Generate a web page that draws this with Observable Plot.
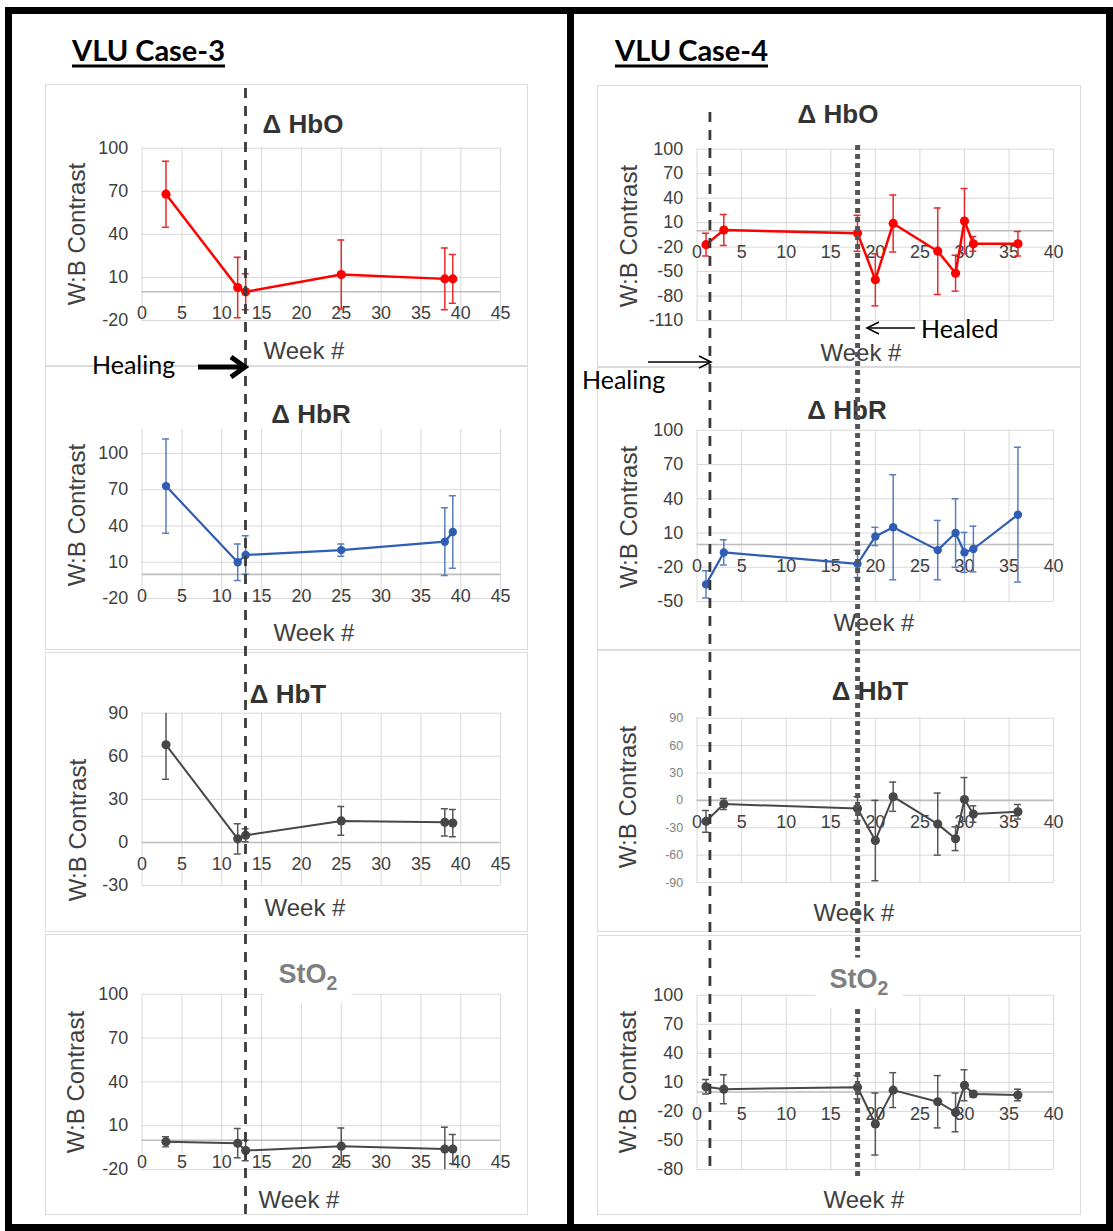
<!DOCTYPE html>
<html><head><meta charset="utf-8">
<script src="https://cdn.jsdelivr.net/npm/d3@7"></script>
<script src="https://cdn.jsdelivr.net/npm/@observablehq/plot@0.6"></script>
<style>
body{margin:0;background:#fff;}
#fig{position:relative;width:1113px;height:1231px;overflow:hidden;background:#fff;font-family:"Liberation Sans",Arial,sans-serif;}
.abs{position:absolute;white-space:nowrap;line-height:1;}
.pbox{position:absolute;border:1px solid #dcdcdc;box-sizing:border-box;background:#fff;}
</style></head><body><div id="fig"></div>
<script>
// ---------------- DATA ----------------
const case3Weeks = [3, 12, 13, 25, 38, 39];
const case3HbO = [68, 3, 0, 12, 9, 9];
const case3HbOErr = [23, 21, 12.5, 24, 21.5, 17];
const case3HbR = [73, 10, 16, 20, 27, 35];
const case3HbRErr = [39, 15, 16, 5, 28, 30];
const case3HbT = [68, 2.5, 5, 15, 14, 13.5];
const case3HbTErr = [24, 10.5, 4.5, 10, 9.5, 9.5];
const case3StO2 = [-1, -2, -7, -4, -6, -6];
const case3StO2Err = [3.5, 10, 7, 12.5, 15, 10];

const case4Weeks = [1, 3, 18, 20, 22, 27, 29, 30, 31, 36];
const case4HbO = [-17, 1, -3, -60, 9, -25, -52, 12, -16, -16];
const case4HbOErr = [14, 19, 22, 32, 35, 53, 22, 40, 9, 15];
const case4HbR = [-35, -7, -17, 7, 15, -5, 10, -7, -4, 26];
const case4HbRErr = [12, 11, 12, 8, 46, 26, 30, 17.5, 20, 59];
const case4HbT = [-23, -4, -9, -44, 4, -26, -42, 1, -15, -12.5];
const case4HbTErr = [12, 6, 13, 44, 16, 34, 13, 24, 9, 8];
const case4StO2 = [5.5, 3, 5, -33, 2, -10, -21, 7, -2, -3];
const case4StO2Err = [7.5, 15, 12, 32, 18, 27, 20, 16, 3, 6];

const case3HealingWeek = [13];
const case4HealingWeek = [1.5];
const case4HealedWeek = [18];

const case3XTicks = [0, 5, 10, 15, 20, 25, 30, 35, 40, 45];
const case4XTicks = [0, 5, 10, 15, 20, 25, 30, 35, 40];
const yTicksC3HbO = [-20, 10, 40, 70, 100];
const yTicksC3HbR = [-20, 10, 40, 70, 100];
const yTicksC3HbT = [-30, 0, 30, 60, 90];
const yTicksC3StO2 = [-20, 10, 40, 70, 100];
const yTicksC4HbO = [-110, -80, -50, -20, 10, 40, 70, 100];
const yTicksC4HbR = [-50, -20, 10, 40, 70, 100];
const yTicksC4HbT = [-90, -60, -30, 0, 30, 60, 90];
const yTicksC4StO2 = [-80, -50, -20, 10, 40, 70, 100];

// ---------------- LAYOUT ----------------
const fig = document.getElementById('fig');
const RED = "#ff0000", BLUE = "#2f5db3", GRAY = "#474747";
const TICK = "#404040";

function addText(html, x, y, o = {}) {
  const d = document.createElement('div');
  d.className = 'abs';
  d.innerHTML = html;
  d.style.left = x + 'px';
  d.style.top = y + 'px';
  d.style.fontSize = (o.size || 24) + 'px';
  d.style.fontWeight = o.weight || 'normal';
  d.style.color = o.color || '#404040';
  if (o.family) d.style.fontFamily = o.family;
  if (o.bg) { d.style.background = o.bg; d.style.padding = o.pad; }
  if (o.underline) { d.style.textDecoration = 'underline'; d.style.textDecorationThickness = '3px'; d.style.textUnderlineOffset = '4px'; }
  const tx = o.anchor === 'start' ? '0' : '-50%';
  d.style.transform = `translate(${tx},-50%)` + (o.rotate ? ' rotate(-90deg)' : '');
  fig.appendChild(d);
  return d;
}

function panel(cfg) {
  const box = document.createElement('div');
  box.className = 'pbox';
  Object.assign(box.style, {left: cfg.x + 'px', top: cfg.y + 'px', width: cfg.w + 'px', height: cfg.h + 'px'});
  fig.appendChild(box);
  const data = cfg.weeks.map((w, i) => ({week: w, v: cfg.values[i], e: cfg.errs[i]}));
  const p = Plot.plot({
    width: cfg.w, height: cfg.h,
    marginTop: cfg.mt, marginBottom: cfg.mb, marginLeft: cfg.ml, marginRight: cfg.mr,
    x: {domain: cfg.xDomain, axis: null},
    y: {domain: cfg.yDomain, axis: null},
    style: {background: "transparent", overflow: "visible", fontFamily: "Liberation Sans, Arial, sans-serif"},
    marks: [
      Plot.ruleX(cfg.xTicks, {stroke: "#d9d9d9", strokeWidth: 1}),
      Plot.ruleY(cfg.yTicks, {stroke: "#d9d9d9", strokeWidth: 1}),
      Plot.ruleY([0], {stroke: "#bdbdbd", strokeWidth: 1.6}),
      Plot.text(cfg.yTicks, {y: d => d, text: d => String(d), frameAnchor: "left", textAnchor: "end", dx: -14, fontSize: cfg.yFont || 18, fill: cfg.yFill || TICK}),
      Plot.text(cfg.xTicks, {x: d => d, y: () => 0, text: d => String(d), dy: 22, fontSize: 18, fill: TICK}),
      Plot.ruleX(data, {x: "week", y1: d => d.v - d.e, y2: d => d.v + d.e, stroke: cfg.errColor, strokeWidth: 1.5, clip: true}),
      Plot.ruleY(data, {y: d => d.v + d.e, x1: "week", x2: "week", insetLeft: -3.5, insetRight: -3.5, stroke: cfg.errColor, strokeWidth: 1.5, clip: true}),
      Plot.ruleY(data, {y: d => d.v - d.e, x1: "week", x2: "week", insetLeft: -3.5, insetRight: -3.5, stroke: cfg.errColor, strokeWidth: 1.5, clip: true}),
      Plot.line(data, {x: "week", y: "v", stroke: cfg.color, strokeWidth: cfg.lw || 2.5}),
      Plot.dot(data, {x: "week", y: "v", r: cfg.r || 4.6, fill: cfg.color, stroke: "none"})
    ]
  });
  p.style.position = 'absolute';
  p.style.left = '-1px';
  p.style.top = '-1px';
  box.appendChild(p);
  addText("W:B Contrast", cfg.yl[0], cfg.yl[1], {size: 24, rotate: true, color: "#404040"});
  addText("Week #", cfg.xl[0], cfg.xl[1], {size: 24, color: "#404040"});
  if (!cfg.whiteTitle) addText(cfg.title, cfg.tc[0], cfg.tc[1], {size: 26, weight: 'bold', color: "#333"});
}

const L = {x: 45, w: 483, ml: 97, mr: 26, xDomain: [0, 45], xTicks: case3XTicks};
const R = {x: 597, w: 484, ml: 100, mr: 26, xDomain: [0, 40], xTicks: case4XTicks};
const sto2Title = 'StO<span style="font-size:0.72em;position:relative;top:0.38em">2</span>';

const panels = [
  {...L, y: 84, h: 282, mt: 64, mb: 45, yDomain: [-20, 100], yTicks: yTicksC3HbO, weeks: case3Weeks, values: case3HbO, errs: case3HbOErr, color: RED, errColor: "#e8282b", title: "Δ HbO", tc: [303, 124], yl: [77, 234], xl: [304, 351]},
  {...L, y: 366, h: 284, mt: 63, mb: 51, yDomain: [-20, 120], yTicks: yTicksC3HbR, weeks: case3Weeks, values: case3HbR, errs: case3HbRErr, color: BLUE, errColor: "#5b7cbd", lw: 2.2, r: 4.2, title: "Δ HbR", tc: [311, 414], yl: [77, 515], xl: [314, 633]},
  {...L, y: 652, h: 280, mt: 61, mb: 46, yDomain: [-30, 90], yTicks: yTicksC3HbT, weeks: case3Weeks, values: case3HbT, errs: case3HbTErr, color: GRAY, errColor: "#555", lw: 2, title: "Δ HbT", tc: [288, 694], yl: [78, 830], xl: [305, 908]},
  {...L, y: 934, h: 281, mt: 60, mb: 45, yDomain: [-20, 100], yTicks: yTicksC3StO2, weeks: case3Weeks, values: case3StO2, errs: case3StO2Err, color: GRAY, errColor: "#555", lw: 2, whiteTitle: true, yl: [76, 1082], xl: [299, 1200]},
  {...R, y: 85, h: 282, mt: 64, mb: 46, yDomain: [-110, 100], yTicks: yTicksC4HbO, weeks: case4Weeks, values: case4HbO, errs: case4HbOErr, color: RED, errColor: "#e8282b", title: "Δ HbO", tc: [838, 114], yl: [629, 236], xl: [861, 353]},
  {...R, y: 367, h: 283, mt: 63, mb: 48, yDomain: [-50, 100], yTicks: yTicksC4HbR, weeks: case4Weeks, values: case4HbR, errs: case4HbRErr, color: BLUE, errColor: "#5b7cbd", lw: 2.2, r: 4.2, title: "Δ HbR", tc: [847, 410], yl: [629, 517], xl: [874, 623]},
  {...R, y: 650, h: 282, mt: 68, mb: 49, yDomain: [-90, 90], yTicks: yTicksC4HbT, weeks: case4Weeks, values: case4HbT, errs: case4HbTErr, color: GRAY, errColor: "#555", lw: 2, yFont: 12.5, yFill: "#7f7f7f", title: "Δ HbT", tc: [870, 691], yl: [628, 797], xl: [854, 913]},
  {...R, y: 935, h: 280, mt: 60, mb: 45, yDomain: [-80, 100], yTicks: yTicksC4StO2, weeks: case4Weeks, values: case4StO2, errs: case4StO2Err, color: GRAY, errColor: "#555", lw: 2, whiteTitle: true, yl: [628, 1082], xl: [864, 1200]}
];
panels.forEach(panel);

// vertical healing / healed markers, drawn through each column's week scale
function overlay(col, mt, mb, marks) {
  const p = Plot.plot({
    width: col.w, height: 1231, marginTop: mt, marginBottom: mb, marginLeft: col.ml, marginRight: col.mr,
    x: {domain: col.xDomain, axis: null},
    style: {background: "transparent", overflow: "visible"},
    marks
  });
  p.style.position = 'absolute';
  p.style.left = (col.x - 1) + 'px';
  p.style.top = '0px';
  fig.appendChild(p);
}
overlay(L, 88, 16, [
  Plot.ruleX(case3HealingWeek, {stroke: "#3a3a3a", strokeWidth: 2.8, strokeDasharray: "10,8"})
]);
overlay(R, 112, 53, [
  Plot.ruleX(case4HealingWeek, {stroke: "#3a3a3a", strokeWidth: 2.8, strokeDasharray: "10,8", insetBottom: 11}),
  Plot.ruleX(case4HealedWeek, {stroke: "#555", strokeWidth: 5, strokeDasharray: "5,4", insetTop: 33})
]);

// StO2 titles with white backing (cover grid / marker line)
addText(sto2Title, 308, 978, {size: 27, weight: 'bold', color: "#7f7f7f", bg: "#fff", pad: "8px 14px 16px 14px"});
addText(sto2Title, 859, 983, {size: 27, weight: 'bold', color: "#7f7f7f", bg: "#fff", pad: "8px 14px 16px 14px"});

// arrows and annotation text
const ns = "http://www.w3.org/2000/svg";
const svg = document.createElementNS(ns, "svg");
svg.setAttribute("width", 1113); svg.setAttribute("height", 1231);
svg.style.position = "absolute"; svg.style.left = "0"; svg.style.top = "0";
svg.innerHTML = `
  <line x1="198" y1="367" x2="243" y2="367" stroke="#000" stroke-width="5"/>
  <polyline points="231,357 245,367 231,377" fill="none" stroke="#000" stroke-width="5" stroke-linejoin="miter"/>
  <line x1="648" y1="362" x2="710" y2="362" stroke="#000" stroke-width="1.6"/>
  <polyline points="699,356 711,362 699,368" fill="none" stroke="#000" stroke-width="1.6"/>
  <line x1="868" y1="328" x2="915" y2="328" stroke="#000" stroke-width="1.6"/>
  <polyline points="879,322 867,328 879,334" fill="none" stroke="#000" stroke-width="1.6"/>`;
fig.appendChild(svg);
addText("Healing", 92, 364, {size: 25, color: "#000", family: "Lato, 'Open Sans', sans-serif", anchor: 'start'});
addText("Healing", 582, 379, {size: 25, color: "#000", family: "Lato, 'Open Sans', sans-serif", anchor: 'start'});
addText("Healed", 921, 328, {size: 25, color: "#000", family: "Lato, 'Open Sans', sans-serif", anchor: 'start'});

// case headers
addText("VLU Case-3", 72, 49, {size: 29, weight: 'bold', color: "#000", family: "Lato, 'Open Sans', sans-serif", anchor: 'start', underline: true});
addText("VLU Case-4", 615, 49, {size: 29, weight: 'bold', color: "#000", family: "Lato, 'Open Sans', sans-serif", anchor: 'start', underline: true});

// outer frame and divider
const frame = document.createElement('div');
Object.assign(frame.style, {position: 'absolute', left: '5px', top: '7px', width: '1108px', height: '1224px', border: '7px solid #000', boxSizing: 'border-box'});
fig.appendChild(frame);
const divider = document.createElement('div');
Object.assign(divider.style, {position: 'absolute', left: '567px', top: '7px', width: '7px', height: '1224px', background: '#000'});
fig.appendChild(divider);
</script></body></html>
